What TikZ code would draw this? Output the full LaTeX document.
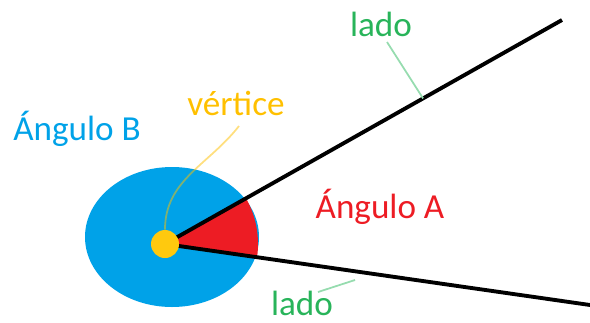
\documentclass[tikz,border=0pt]{standalone}
\usepackage{fontspec}
\setmainfont{Carlito}
\usetikzlibrary{positioning,calc}
\definecolor{azul}{RGB}{0,162,232}
\definecolor{rojo}{RGB}{237,28,36}
\definecolor{amarillo}{RGB}{255,201,14}
\definecolor{dorado}{RGB}{255,192,0}
\definecolor{verde}{RGB}{40,180,90}
\definecolor{verdeclaro}{RGB}{150,220,175}
\tikzstyle{texto}=[font=\fontsize{20}{24}\selectfont,inner sep=0pt]
\tikzstyle{semirecta}=[line width=2.2pt,draw=black]
\tikzstyle{guia}=[line width=1pt,draw=verdeclaro]
\tikzstyle{punto}=[circle,fill=amarillo,minimum size=0.56cm,inner sep=0pt]

\begin{document}
\begin{tikzpicture}[x=0.02cm,y=0.02cm]
\useasboundingbox (0,0) rectangle (590,322);

\coordinate (V) at (165,78);
\coordinate (F1) at (562,302);
\coordinate (F2) at (590,17);

\fill[azul] (172,85) ellipse [x radius=87, y radius=70];
\fill[rojo] (V) -- ++(-8.2:93) arc[start angle=-8.2,end angle=29.4,radius=93] -- cycle;

\draw[semirecta] (V) -- (F1);
\draw[semirecta] (V) -- (F2);
\node[punto] (pV) at (V) {};

\node[texto,text=azul] (angB) at (77,193) {Ángulo B};
\node[texto,text=rojo] (angA) at (380,115) {Ángulo A};
\node[texto,text=dorado] (vert) at (236,219) {vértice};
\node[texto,text=verde] (ladoS) at (381,298) {lado};
\node[texto,text=verde] (ladoI) at (302,19) {lado};

\coordinate (pS) at ($(V)!0.65!(F1)$);
\coordinate (gS) at (387,280);
\coordinate (gI) at (318,30);
\coordinate (pI) at (355,42);
\coordinate (gV) at (239,196);
\draw[guia] (gS) -- (pS);
\draw[guia] (gI) -- (pI);
\draw[line width=1pt,draw=dorado,draw opacity=0.5] (gV) to[out=232,in=90] (pV.north);

\end{tikzpicture}
\end{document}
